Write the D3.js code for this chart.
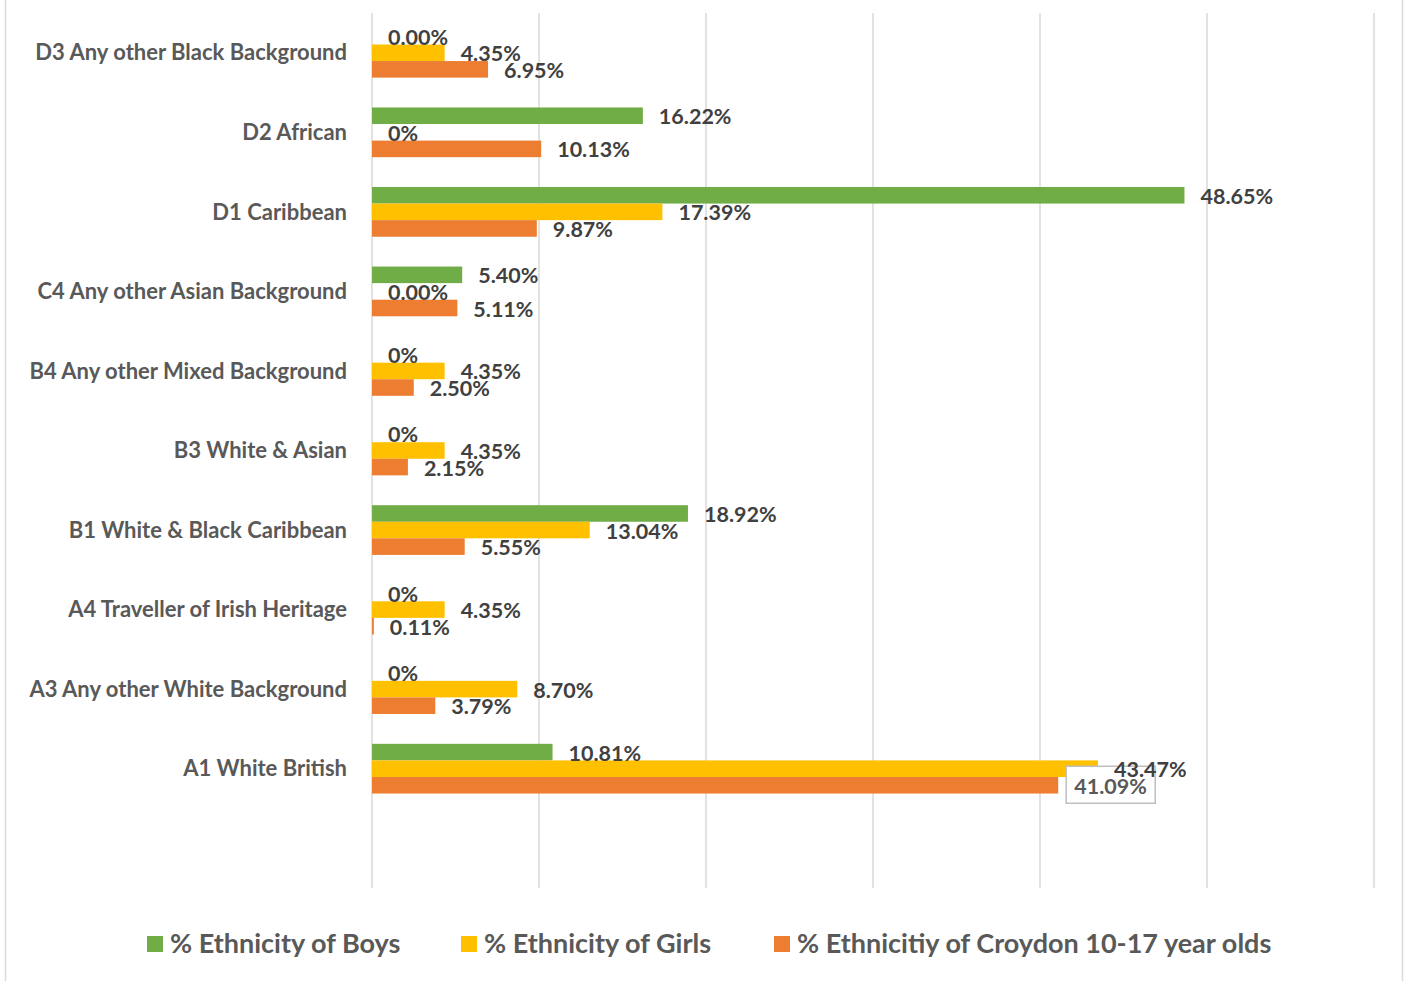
<!DOCTYPE html>
<html>
<head>
<meta charset="utf-8">
<script src="https://cdn.jsdelivr.net/npm/d3@7"></script>
<style>
  html, body { margin: 0; padding: 0; background: #fff; }
  svg { display: block; }
</style>
</head>
<body>
<div id="chart"></div>
<script>
// categories, top to bottom as shown (last band is left empty in the original)
const categories = [
  "D3 Any other Black Background",
  "D2 African",
  "D1 Caribbean",
  "C4 Any other Asian Background",
  "B4 Any other Mixed Background",
  "B3 White & Asian",
  "B1 White & Black Caribbean",
  "A4 Traveller of Irish Heritage",
  "A3 Any other White Background",
  "A1 White British"
];

const seriesNames = ["% Ethnicity of Boys", "% Ethnicity of Girls", "% Ethnicitiy of Croydon 10-17 year olds"];
const seriesColors = ["#70AD47", "#FFC000", "#ED7D31"];

const boysValues    = [0.00, 16.22, 48.65, 5.40, 0, 0, 18.92, 0, 0, 10.81];
const girlsValues   = [4.35, 0, 17.39, 0.00, 4.35, 4.35, 13.04, 4.35, 8.70, 43.47];
const croydonValues = [6.95, 10.13, 9.87, 5.11, 2.50, 2.15, 5.55, 0.11, 3.79, 41.09];

// labels as printed (the source mixes "0%" and "0.00%")
const boysLabels    = ["0.00%", "16.22%", "48.65%", "5.40%", "0%", "0%", "18.92%", "0%", "0%", "10.81%"];
const girlsLabels   = ["4.35%", "0%", "17.39%", "0.00%", "4.35%", "4.35%", "13.04%", "4.35%", "8.70%", "43.47%"];
const croydonLabels = ["6.95%", "10.13%", "9.87%", "5.11%", "2.50%", "2.15%", "5.55%", "0.11%", "3.79%", "41.09%"];

const xTicks = [0, 10, 20, 30, 40, 50, 60];

const width = 1405, height = 981;
const font = "Lato, 'Open Sans', sans-serif";

const svg = d3.select("#chart").append("svg")
  .attr("width", width)
  .attr("height", height)
  .style("font-family", font);

// chart frame
svg.append("rect")
  .attr("x", 5.5).attr("y", -10)
  .attr("width", 1397).attr("height", 1010)
  .attr("fill", "#fff")
  .attr("stroke", "#D9D9D9")
  .attr("stroke-width", 1.5);

const x = d3.scaleLinear().domain([0, 60]).range([372, 1374]);
const y0 = d3.scaleBand().domain([...categories, ""]).range([13, 888]);
const y1 = d3.scaleBand().domain(d3.range(3)).range([0, y0.bandwidth()]).paddingOuter(0.9);

// gridlines
svg.append("g").selectAll("line")
  .data(xTicks)
  .enter().append("line")
  .attr("x1", d => x(d)).attr("x2", d => x(d))
  .attr("y1", 13).attr("y2", 888)
  .attr("stroke", "#D9D9D9")
  .attr("stroke-width", 1.5);

const valuesBySeries = [boysValues, girlsValues, croydonValues];
const labelsBySeries = [boysLabels, girlsLabels, croydonLabels];

const rows = [];
categories.forEach((c, i) => {
  valuesBySeries.forEach((vals, s) => {
    rows.push({ cat: c, s: s, v: vals[i], label: labelsBySeries[s][i] });
  });
});

// bars
svg.append("g").selectAll("rect")
  .data(rows)
  .enter().append("rect")
  .attr("x", x(0))
  .attr("y", d => y0(d.cat) + y1(d.s))
  .attr("width", d => x(d.v) - x(0))
  .attr("height", y1.bandwidth())
  .attr("fill", d => seriesColors[d.s]);

// category labels
svg.append("g").selectAll("text")
  .data(categories)
  .enter().append("text")
  .attr("x", 347)
  .attr("y", d => y0(d) + y0.bandwidth() / 2)
  .attr("dy", "0.35em")
  .attr("text-anchor", "end")
  .style("font-size", "22px")
  .style("font-weight", "bold")
  .style("fill", "#595959")
  .text(d => d);

// boxed label for Croydon A1 White British
const boxed = rows.find(d => d.cat === "A1 White British" && d.s === 2);
const boxY = y0(boxed.cat) + y1(boxed.s) + y1.bandwidth() / 2;
svg.append("rect")
  .attr("x", x(boxed.v) + 8)
  .attr("y", boxY - 19)
  .attr("width", 89)
  .attr("height", 37)
  .attr("fill", "#fff")
  .attr("stroke", "#BFBFBF")
  .attr("stroke-width", 1.5);

// value labels
svg.append("g").selectAll("text")
  .data(rows)
  .enter().append("text")
  .attr("x", d => x(d.v) + 16)
  .attr("y", d => y0(d.cat) + y1(d.s) + y1.bandwidth() / 2 + 1)
  .attr("dy", "0.35em")
  .style("font-size", "21.5px")
  .style("font-weight", "bold")
  .style("fill", d => d === boxed ? "#595959" : "#404040")
  .text(d => d.label);

// legend
const legendX = [147, 461, 774];
const legend = svg.append("g").selectAll("g")
  .data(seriesNames)
  .enter().append("g")
  .attr("transform", (d, i) => `translate(${legendX[i]},944)`);

legend.append("rect")
  .attr("x", 0).attr("y", -8)
  .attr("width", 16).attr("height", 16)
  .attr("fill", (d, i) => seriesColors[i]);

legend.append("text")
  .attr("x", 23)
  .attr("dy", "0.35em")
  .style("font-size", "27px")
  .style("font-weight", "bold")
  .style("fill", "#595959")
  .text(d => d);
</script>
</body>
</html>
